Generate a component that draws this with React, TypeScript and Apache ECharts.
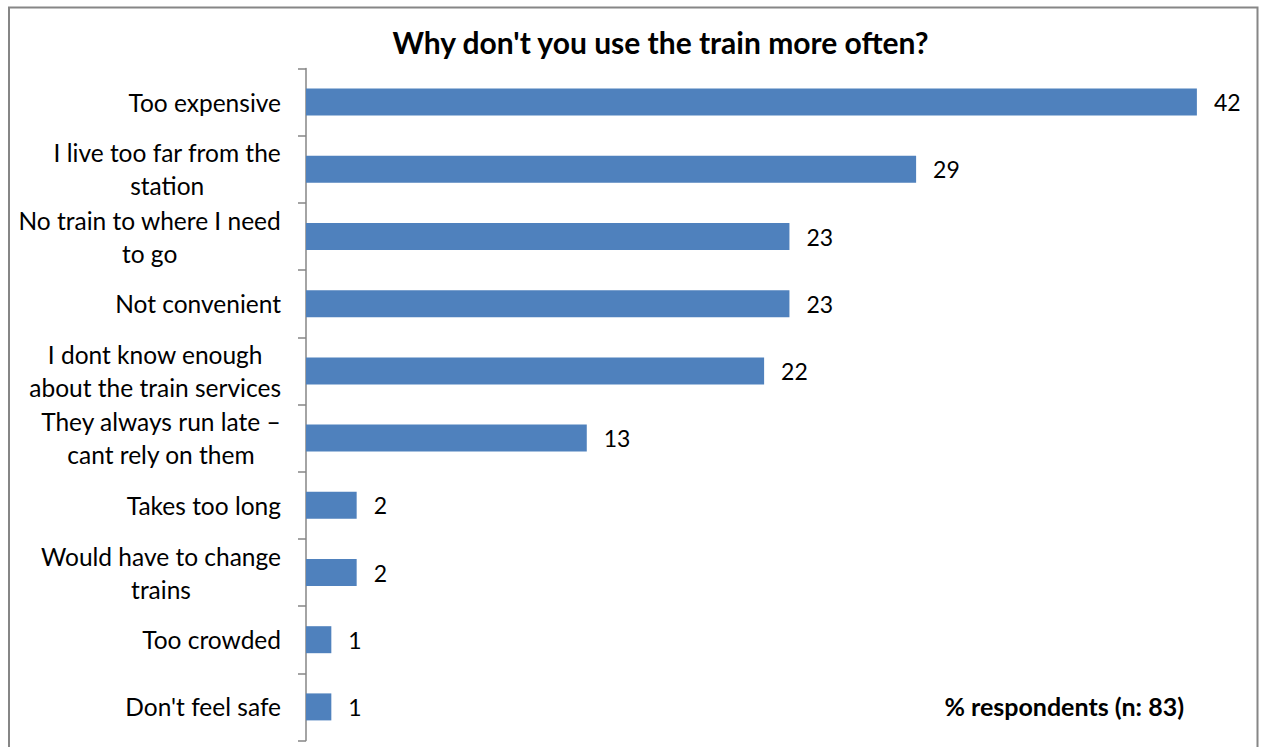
import React, { useEffect, useRef } from "react";
import * as echarts from "echarts";

const titleText = "Why don't you use the train more often?";
const noteText = "% respondents (n: 83)";

const categories = [
  "Too expensive",
  "I live too far from the\nstation",
  "No train to where I need\nto go",
  "Not convenient",
  "I dont know enough\nabout the train services",
  "They always run late –\ncant rely on them",
  "Takes too long",
  "Would have to change\ntrains",
  "Too crowded",
  "Don't feel safe",
];

// % respondents (bar lengths), labels show rounded values
const values = [42.2, 28.9, 22.9, 22.9, 21.7, 13.3, 2.4, 2.4, 1.2, 1.2];

const FONT = "Lato, 'Noto Sans', sans-serif";

export default function App() {
  const ref = useRef<HTMLDivElement>(null);
  useEffect(() => {
    if (!ref.current) return;
    const chart = echarts.init(ref.current, null, { renderer: "svg" });
    chart.setOption({
      animation: false,
      backgroundColor: "#ffffff",
      grid: { left: 306, top: 68.5, width: 950, height: 672, containLabel: false },
      xAxis: {
        type: "value",
        min: 0,
        max: 45,
        show: false,
        splitLine: { show: false },
      },
      yAxis: {
        type: "category",
        data: categories,
        inverse: true,
        axisLine: { show: true, lineStyle: { color: "#868686", width: 1.5 } },
        axisTick: { show: true, length: 8, lineStyle: { color: "#868686", width: 1.5 } },
        splitLine: { show: false },
        axisLabel: {
          margin: 25,
          formatter: (v: string) =>
            v
              .split("\n")
              .map((l) => `{c|${l}}`)
              .join("\n"),
          rich: {
            c: {
              align: "center",
              fontSize: 24.5,
              fontFamily: FONT,
              color: "#000000",
              lineHeight: 33,
            },
          },
        },
      },
      series: [
        {
          type: "bar",
          data: values,
          barWidth: 27,
          itemStyle: { color: "#4F81BD" },
          label: {
            show: true,
            position: "right",
            distance: 17,
            formatter: (p: any) => String(Math.round(p.value)),
            fontSize: 23,
            fontFamily: FONT,
            color: "#000000",
          },
        },
      ],
      graphic: [
        {
          type: "rect",
          shape: { x: 9, y: 7.5, width: 1248.5, height: 760 },
          style: { fill: "none", stroke: "#868686", lineWidth: 2 },
          silent: true,
        },
        {
          type: "text",
          x: 660.5,
          y: 42,
          style: {
            text: titleText,
            textAlign: "center",
            textVerticalAlign: "middle",
            font: `bold 30px ${FONT}`,
            fill: "#000000",
          },
        },
        {
          type: "text",
          x: 1184,
          y: 706,
          style: {
            text: noteText,
            textAlign: "right",
            textVerticalAlign: "middle",
            font: `bold 25px ${FONT}`,
            fill: "#000000",
          },
        },
      ],
    });
    return () => chart.dispose();
  }, []);
  return (
    <div
      ref={ref}
      style={{ position: "absolute", left: 0, top: 0, width: 1264, height: 747, overflow: "hidden" }}
    />
  );
}
